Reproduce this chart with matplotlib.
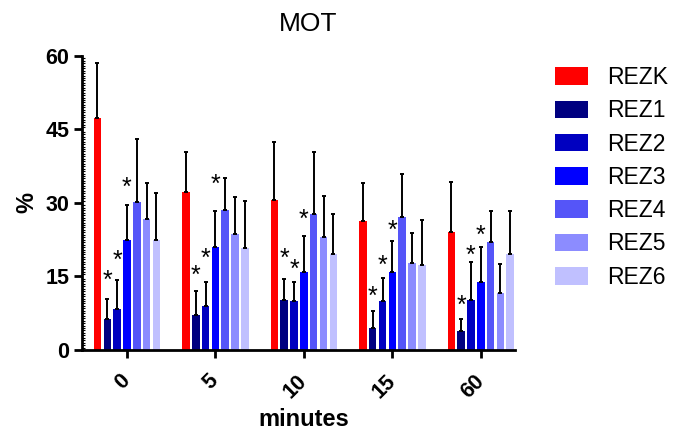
import numpy as np
import matplotlib
matplotlib.use('Agg')
import matplotlib.pyplot as plt
from matplotlib.ticker import MultipleLocator
from matplotlib.patches import Patch

plt.rcParams['font.family'] = ['Liberation Sans', 'DejaVu Sans']

# data
minutes = ['0', '5', '10', '15', '60']
series = ['REZK', 'REZ1', 'REZ2', 'REZ3', 'REZ4', 'REZ5', 'REZ6']
colors = ['#ff0000', '#000080', '#0000c0', '#0000ff', '#5555f8', '#8c8cff', '#c0c0ff']

means = {
    'REZK': [47.3, 32.3, 30.6, 26.3, 24.0],
    'REZ1': [6.4, 7.2, 10.2, 4.4, 3.9],
    'REZ2': [8.4, 9.0, 9.9, 10.1, 10.3],
    'REZ3': [22.5, 21.1, 16.0, 15.9, 13.8],
    'REZ4': [30.1, 28.5, 27.7, 27.1, 22.1],
    'REZ5': [26.7, 23.6, 23.1, 17.8, 11.7],
    'REZ6': [22.5, 20.9, 19.5, 17.3, 19.5],
}
err_top = {
    'REZK': [58.5, 40.3, 42.4, 34.0, 34.2],
    'REZ1': [10.5, 12.1, 14.4, 8.0, 6.3],
    'REZ2': [14.2, 13.9, 13.9, 14.6, 17.9],
    'REZ3': [29.5, 28.3, 23.3, 22.2, 21.0],
    'REZ4': [43.0, 35.1, 40.3, 35.9, 28.4],
    'REZ5': [34.1, 31.2, 31.4, 23.8, 17.5],
    'REZ6': [32.1, 30.4, 27.8, 26.5, 28.4],
}
# height (in % units) of the * marks, placed by hand in the original
star_y = {
    'REZ1': [15.6, 16.7, 20.1, 12.4, 10.5],
    'REZ2': [19.7, 20.1, 17.9, 18.7, 20.8],
    'REZ3': [34.6, 35.2, 28.0, 25.8, 24.8],
}

fig = plt.figure(figsize=(6.8, 4.3), dpi=100)
ax = fig.add_axes([0.1206, 0.186, 0.6364, 0.684])

x = np.arange(len(minutes))
slot = 0.111
width = 0.085
for i, name in enumerate(series):
    pos = x + (i - 3) * slot
    m = np.array(means[name])
    up = np.array(err_top[name]) - m
    ax.bar(pos, m, width, color=colors[i], zorder=2)
    ax.errorbar(pos, m, yerr=[np.zeros_like(up), up], fmt='none',
                ecolor='black', elinewidth=1.4, capsize=1.2, capthick=1.4, zorder=3)
    if name in star_y:
        for p, s in zip(pos, star_y[name]):
            # centre of the * glyph sits about 0.58 em above the baseline
            ax.annotate('*', (p, s), xytext=(0, -10.4), textcoords='offset points',
                        ha='center', va='baseline', fontsize=18)

ax.set_xlim(-0.508, 4.384)
ax.set_ylim(0, 60)
ax.set_yticks([0, 15, 30, 45, 60])
ax.set_xticks(x)
ax.set_xticklabels(minutes, rotation=45, ha='right', va='center',
                   rotation_mode='anchor', fontweight='bold', fontsize=15.5)
for lab in ax.get_yticklabels():
    lab.set_fontweight('bold')
    lab.set_fontsize(15.5)
ax.yaxis.set_minor_locator(MultipleLocator(0.5))
ax.tick_params(axis='both', which='major', width=2, length=6, pad=3)
ax.tick_params(axis='x', which='major', pad=14)
ax.tick_params(axis='y', which='minor', direction='in', length=2, width=0.8)
ax.tick_params(axis='x', which='minor', bottom=False)

for s in ['top', 'right']:
    ax.spines[s].set_visible(False)
for s in ['left', 'bottom']:
    ax.spines[s].set_linewidth(2)

ax.set_title('MOT', fontsize=19, pad=18, x=0.522)
ax.set_ylabel('%', fontsize=17, fontweight='bold', labelpad=5)
ax.set_xlabel('minutes', fontsize=17, fontweight='bold', labelpad=4, x=0.513)

handles = [Patch(facecolor=c, label=n) for n, c in zip(series, colors)]
fig.legend(handles=handles, loc='upper left', bbox_to_anchor=(0.802, 0.868),
           frameon=False, fontsize=16.5, handlelength=1.48, handleheight=0.8,
           handletextpad=0.8, labelspacing=0.45, borderaxespad=0)

fig.savefig('out.png', dpi=100)
